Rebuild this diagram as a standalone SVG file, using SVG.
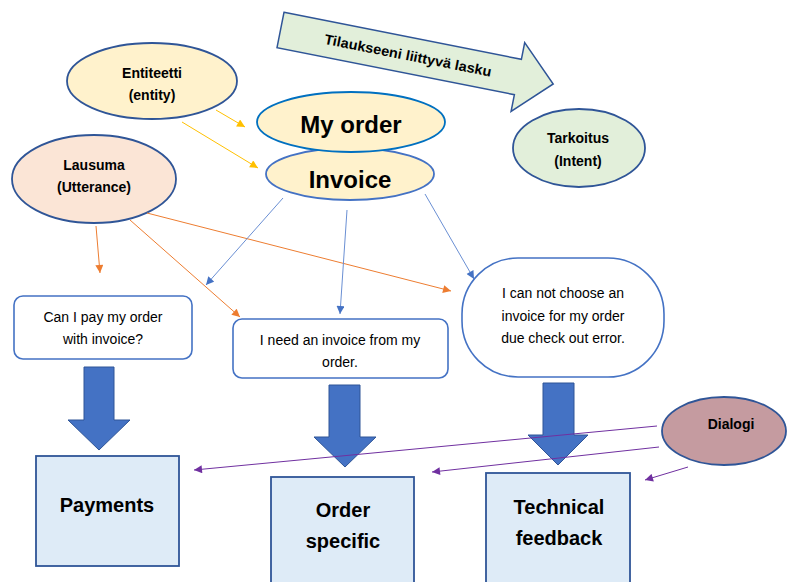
<svg xmlns="http://www.w3.org/2000/svg" width="787" height="582" viewBox="0 0 787 582">
<defs>
<style>
text{font-family:"Liberation Sans",Arial,sans-serif;fill:#000;text-anchor:middle}
.b{font-weight:bold}
.el{stroke-width:1.8}
.tbox{fill:#fff;stroke:#4472C4;stroke-width:1.6}
.cat{fill:#DEEBF7;stroke:#2F5597;stroke-width:1.8}
.down{fill:#4472C4;stroke:#2F5597;stroke-width:1}
.ln{fill:none;stroke-width:1}
</style>
<marker id="mY" viewBox="0 0 10 10" refX="10" refY="5" markerWidth="9" markerHeight="8" orient="auto" markerUnits="userSpaceOnUse"><path d="M0,0 L10,5 L0,10 z" fill="#FFC000"/></marker>
<marker id="mO" viewBox="0 0 10 10" refX="10" refY="5" markerWidth="9" markerHeight="8" orient="auto" markerUnits="userSpaceOnUse"><path d="M0,0 L10,5 L0,10 z" fill="#ED7D31"/></marker>
<marker id="mB" viewBox="0 0 10 10" refX="10" refY="5" markerWidth="9" markerHeight="8" orient="auto" markerUnits="userSpaceOnUse"><path d="M0,0 L10,5 L0,10 z" fill="#4472C4"/></marker>
<marker id="mP" viewBox="0 0 10 10" refX="10" refY="5" markerWidth="9" markerHeight="8" orient="auto" markerUnits="userSpaceOnUse"><path d="M0,0 L10,5 L0,10 z" fill="#7030A0"/></marker>
</defs>
<rect width="787" height="582" fill="#fff"/>

<g id="intent-arrow" transform="translate(280.5,30) rotate(11.2)">
<path d="M0,-18 L242,-18 L242,-35 L278,0 L242,35 L242,18 L0,18 Z" fill="#E2EFDA" stroke="#2F5597" stroke-width="1.5"/>
<text class="b" x="130" y="5" font-size="14" textLength="170" lengthAdjust="spacingAndGlyphs">Tilaukseeni liittyvä lasku</text>
</g>

<g id="entiteetti">
<ellipse class="el" cx="152" cy="81" rx="85" ry="38" fill="#FFF2CC" stroke="#2F5597"/>
<text class="b" x="152" y="78" font-size="14">Entiteetti</text>
<text class="b" x="152" y="100" font-size="14">(entity)</text>
</g>

<g id="lausuma">
<ellipse class="el" cx="94" cy="179" rx="82" ry="44" fill="#FBE5D6" stroke="#2F5597"/>
<text class="b" x="94" y="170" font-size="14">Lausuma</text>
<text class="b" x="94" y="192" font-size="14">(Utterance)</text>
</g>

<g id="tarkoitus">
<ellipse class="el" cx="579" cy="148" rx="66" ry="39" fill="#E2EFDA" stroke="#2F5597"/>
<text class="b" x="578" y="143" font-size="14">Tarkoitus</text>
<text class="b" x="578" y="166" font-size="14">(Intent)</text>
</g>

<g id="invoice">
<ellipse class="el" cx="350" cy="174" rx="84" ry="26" fill="#FFF2CC" stroke="#4472C4"/>
<text class="b" x="350" y="188" font-size="24">Invoice</text>
</g>

<g id="my-order">
<ellipse class="el" cx="351" cy="122" rx="94" ry="30" fill="#FFF2CC" stroke="#0070C0"/>
<text class="b" x="351" y="133" font-size="24">My order</text>
</g>

<g id="utt-pay">
<rect class="tbox" x="14" y="296" width="178" height="63" rx="9"/>
<text x="103" y="322" font-size="14">Can I pay my order</text>
<text x="103" y="344" font-size="14">with invoice?</text>
</g>

<g id="utt-need">
<rect class="tbox" x="233" y="319" width="215" height="59" rx="9"/>
<text x="340" y="345" font-size="14">I need an invoice from my</text>
<text x="340" y="367" font-size="14">order.</text>
</g>

<g id="utt-error">
<rect class="tbox" x="462" y="258" width="202" height="119" rx="56"/>
<text x="563" y="298" font-size="14">I can not choose an</text>
<text x="563" y="321" font-size="14">invoice for my order</text>
<text x="563" y="343" font-size="14">due check out error.</text>
</g>

<g id="down-arrows">
<path class="down" d="M84,367 L114,367 L114,420 L130,420 L99,450 L68,420 L84,420 Z"/>
<path class="down" d="M329,385 L360,385 L360,437 L376,437 L345,467 L314,437 L329,437 Z"/>
<path class="down" d="M543,383 L574,383 L574,435 L588,435 L558,465 L528,435 L543,435 Z"/>
</g>

<g id="payments">
<rect class="cat" x="36" y="456" width="143" height="110"/>
<text class="b" x="107" y="512" font-size="20">Payments</text>
</g>

<g id="order-specific">
<rect class="cat" x="271" y="477" width="143" height="120"/>
<text class="b" x="343" y="517" font-size="20">Order</text>
<text class="b" x="343" y="548" font-size="20">specific</text>
</g>

<g id="technical-feedback">
<rect class="cat" x="486" y="473" width="144" height="125"/>
<text class="b" x="559" y="514" font-size="20">Technical</text>
<text class="b" x="559" y="545" font-size="20">feedback</text>
</g>

<g id="dialogi">
<ellipse class="el" cx="724" cy="431" rx="62" ry="34" fill="#C59BA0" stroke="#2F5597"/>
<text class="b" x="731" y="429" font-size="14">Dialogi</text>
</g>

<g id="connectors">
<line class="ln" x1="216" y1="110" x2="245" y2="127" stroke="#FFC000" marker-end="url(#mY)"/>
<line class="ln" x1="182" y1="122" x2="258" y2="168" stroke="#FFC000" marker-end="url(#mY)"/>
<line class="ln" x1="96" y1="226" x2="100" y2="273" stroke="#ED7D31" marker-end="url(#mO)"/>
<line class="ln" x1="130" y1="220" x2="240" y2="317" stroke="#ED7D31" marker-end="url(#mO)"/>
<line class="ln" x1="147" y1="213" x2="451" y2="291" stroke="#ED7D31" marker-end="url(#mO)"/>
<line class="ln" x1="283" y1="198" x2="206" y2="285" stroke="#6A8FD3" marker-end="url(#mB)"/>
<line class="ln" x1="347" y1="210" x2="340" y2="314" stroke="#6A8FD3" marker-end="url(#mB)"/>
<line class="ln" x1="425" y1="194" x2="474" y2="279" stroke="#6A8FD3" marker-end="url(#mB)"/>
<line class="ln" x1="657" y1="426" x2="194" y2="470" stroke="#7030A0" marker-end="url(#mP)"/>
<line class="ln" x1="659" y1="447" x2="432" y2="472" stroke="#7030A0" marker-end="url(#mP)"/>
<line class="ln" x1="688" y1="467" x2="645" y2="480" stroke="#7030A0" marker-end="url(#mP)"/>
</g>
</svg>
